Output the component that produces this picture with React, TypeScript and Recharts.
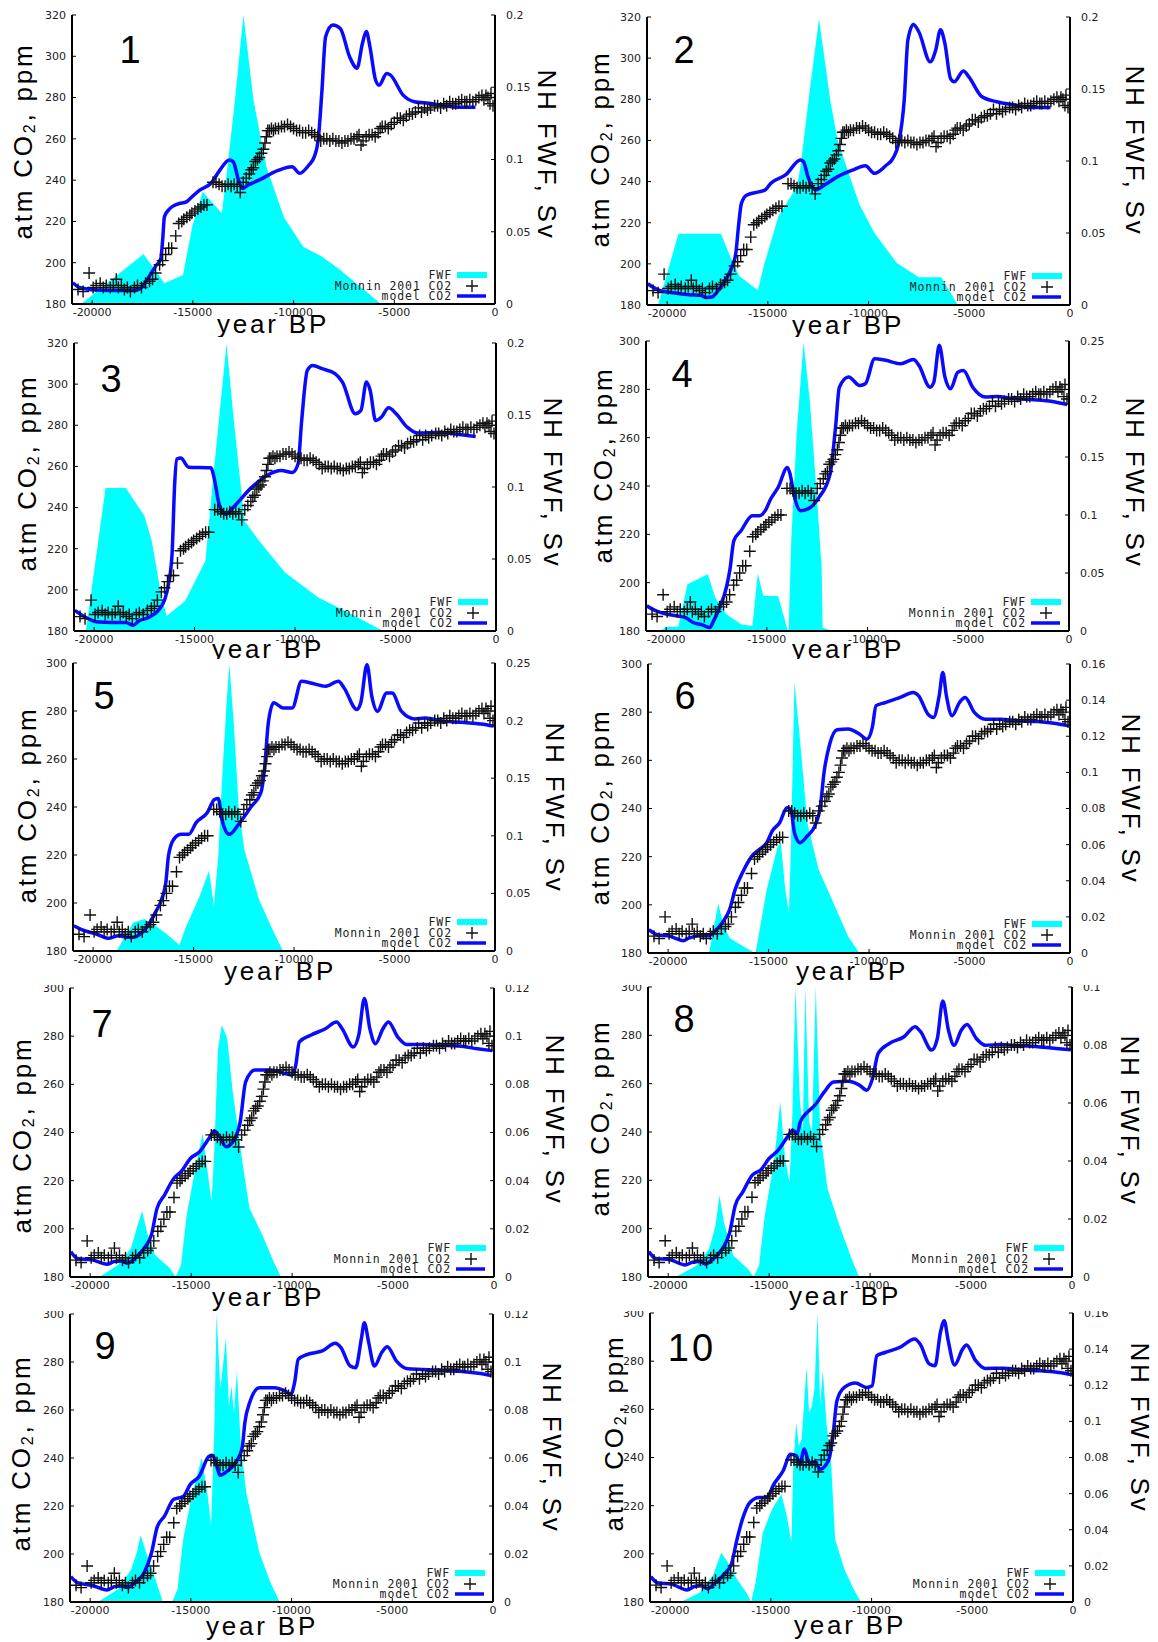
import { Area, ComposedChart, Line, Scatter, XAxis, YAxis } from 'recharts';

type Pair = [number, number];

// axis ticks
const YEAR_TICKS = [-20000, -15000, -10000, -5000, 0];
const CO2_TICKS_320 = [180, 200, 220, 240, 260, 280, 300, 320];
const CO2_TICKS_300 = [180, 200, 220, 240, 260, 280, 300];
const FWF_TICKS_25 = [0, 0.05, 0.1, 0.15, 0.2, 0.25];
const FWF_TICKS_20 = [0, 0.05, 0.1, 0.15, 0.2];
const FWF_TICKS_16 = [0, 0.02, 0.04, 0.06, 0.08, 0.1, 0.12, 0.14, 0.16];
const FWF_TICKS_12 = [0, 0.02, 0.04, 0.06, 0.08, 0.1, 0.12];
const FWF_TICKS_10 = [0, 0.02, 0.04, 0.06, 0.08, 0.1];

// Monnin 2001 Dome C CO2 (year BP, ppm) - same in every panel
const MONNIN: Pair[] = [
  [-20700, 187], [-20450, 186], [-20150, 195], [-19950, 188], [-19800, 189], [-19600, 190],
  [-19450, 188], [-19300, 189], [-19100, 188], [-18950, 189], [-18800, 192], [-18700, 188],
  [-18550, 189], [-18400, 187], [-18250, 188], [-18100, 186], [-17900, 188], [-17750, 189],
  [-17550, 188], [-17350, 190], [-17150, 191], [-17000, 192], [-16850, 195], [-16650, 199],
  [-16500, 201], [-16350, 204], [-16200, 207], [-16050, 207], [-15850, 213], [-15700, 219],
  [-15550, 220], [-15450, 221], [-15300, 222], [-15150, 223], [-15050, 224], [-14900, 225],
  [-14750, 226], [-14600, 227], [-14450, 228], [-14300, 228], [-14000, 239], [-13850, 239],
  [-13700, 238], [-13550, 237], [-13400, 237], [-13250, 238], [-13100, 237], [-12950, 238],
  [-12800, 237], [-12650, 234], [-12500, 239], [-12350, 241], [-12200, 243], [-12100, 245],
  [-12000, 246], [-11900, 249], [-11800, 250], [-11700, 251], [-11600, 253], [-11500, 255],
  [-11420, 258], [-11350, 261], [-11280, 264], [-11200, 264], [-11100, 265], [-11000, 264],
  [-10900, 265], [-10750, 265], [-10600, 266], [-10450, 266], [-10300, 267], [-10150, 266],
  [-10000, 265], [-9850, 264], [-9700, 264], [-9550, 263], [-9400, 263], [-9250, 264],
  [-9100, 263], [-8950, 262], [-8800, 261], [-8650, 259], [-8500, 260], [-8350, 260],
  [-8200, 259], [-8050, 260], [-7900, 259], [-7750, 259], [-7600, 258], [-7450, 259],
  [-7300, 259], [-7150, 260], [-7000, 260], [-6850, 261], [-6750, 262], [-6650, 257],
  [-6550, 259], [-6400, 261], [-6250, 262], [-6100, 262], [-5950, 261], [-5800, 263],
  [-5700, 265], [-5600, 266], [-5450, 266], [-5300, 265], [-5150, 267], [-5000, 268],
  [-4850, 270], [-4700, 270], [-4550, 269], [-4400, 271], [-4250, 272], [-4100, 272],
  [-3950, 273], [-3800, 275], [-3650, 273], [-3500, 275], [-3350, 274], [-3200, 275],
  [-3000, 276], [-2850, 276], [-2700, 275], [-2550, 277], [-2400, 276], [-2250, 278],
  [-2100, 277], [-1950, 277], [-1800, 278], [-1650, 279], [-1500, 278], [-1400, 278],
  [-1250, 279], [-1100, 278], [-950, 279], [-800, 280], [-650, 281], [-550, 279],
  [-450, 281], [-350, 280], [-250, 277], [-200, 282], [-100, 276],
];

// model CO2 (year BP, ppm) and NH freshwater flux (year BP, Sv), one pair of series per run
const MODEL_1: Pair[] = [
  [-20960, 190.3], [-20630, 188], [-19800, 186.8], [-18700, 186.5], [-17800, 186.8], [-17500, 188.4],
  [-17230, 192.4], [-16870, 198], [-16590, 202], [-16500, 211], [-16410, 222.3], [-16130, 226.3],
  [-15760, 228.4], [-15300, 229.6], [-15120, 231.2], [-14660, 235.2], [-14100, 238.5], [-13650, 245],
  [-13190, 249.8], [-13000, 249], [-12730, 240], [-12550, 236], [-12270, 237.6], [-11720, 240],
  [-10800, 244.6], [-10070, 246.5], [-9700, 243.3], [-9240, 247.3], [-8970, 251.4], [-8780, 259.4],
  [-8600, 282], [-8410, 309.5], [-8050, 315.2], [-7680, 313.5], [-7220, 299.8], [-6850, 294.2],
  [-6580, 306.3], [-6390, 312], [-6210, 304.7], [-5930, 288.5], [-5750, 286], [-5380, 291.7],
  [-5200, 291], [-4560, 281.2], [-4000, 278], [-3270, 277.2], [-2540, 276], [-1800, 275.3], [-970, 275.3],
];
const FWF_1: Pair[] = [
  [-20540, 0], [-17450, 0.0346], [-16410, 0.0143], [-15490, 0.02], [-15030, 0.0535], [-14520, 0.0777],
  [-13560, 0.0628], [-13280, 0.095], [-12910, 0.141], [-12490, 0.2], [-11990, 0.141], [-11350, 0.095],
  [-10480, 0.06], [-9520, 0.0397], [-8600, 0.0328], [-7680, 0.0235], [-5660, 0],
];

const MODEL_2: Pair[] = [
  [-20960, 190.3], [-20450, 187.4], [-19620, 185.8], [-18890, 185], [-18340, 184.7], [-18060, 183.7],
  [-17780, 183.9], [-17500, 186.6], [-17050, 193.1], [-16770, 198.8], [-16590, 205.2], [-16460, 218],
  [-16310, 229.5], [-16040, 233.5], [-15400, 235.1], [-15120, 236], [-14850, 239.2], [-14120, 243.2],
  [-13380, 250.5], [-13230, 249.7], [-13010, 242.4], [-12640, 236], [-12180, 238.4], [-11540, 242.4],
  [-10800, 245.6], [-10160, 247.7], [-9700, 244], [-9150, 247.7], [-8790, 251.3], [-8510, 258.6],
  [-8230, 279.6], [-8050, 308.7], [-7770, 316.4], [-7500, 312.7], [-6940, 298.2], [-6670, 303.8],
  [-6430, 313.8], [-6210, 307], [-5930, 290], [-5750, 288.5], [-5290, 293.8], [-5020, 290.9],
  [-4370, 281.2], [-3640, 278.8], [-2720, 277.2], [-1980, 276], [-970, 276],
];
const FWF_2: Pair[] = [
  [-20450, 0], [-19440, 0.0494], [-17330, 0.0494], [-16870, 0.0337], [-16410, 0.0199], [-15490, 0.0102],
  [-15210, 0.0268], [-14480, 0.0614], [-13560, 0.0822], [-13380, 0.096], [-12920, 0.149], [-12460, 0.1988],
  [-11900, 0.142], [-11540, 0.1146], [-10990, 0.0915], [-10440, 0.0695], [-9700, 0.0499], [-8600, 0.0291],
  [-7500, 0.0192], [-6390, 0.0192], [-5570, 0],
];

const MODEL_3: Pair[] = [
  [-20960, 190], [-20540, 187.3], [-19890, 184.5], [-19150, 184.1], [-18420, 184.1], [-18050, 182.8],
  [-17770, 184.9], [-17310, 186.5], [-16760, 190.6], [-16480, 195.4], [-16300, 202.7], [-16120, 217.4],
  [-15990, 251.5], [-15880, 263.6], [-15690, 264.1], [-15290, 259.6], [-14180, 259.3], [-14000, 253.1],
  [-13780, 241.7], [-13450, 236.8], [-13080, 240.1], [-12160, 249.8], [-11420, 255.5], [-10680, 258],
  [-10130, 257.1], [-9850, 261.2], [-9670, 282.3], [-9390, 306.7], [-9120, 309.1], [-8660, 307.5],
  [-8010, 305.1], [-7640, 301], [-7000, 285.6], [-6720, 287.2], [-6450, 301], [-6260, 296.9],
  [-5990, 282.3], [-5710, 283.9], [-5340, 288.5], [-4970, 285.6], [-4420, 279.1], [-3870, 276.2],
  [-2950, 276.5], [-2030, 275.8], [-1010, 274.5],
];
const FWF_3: Pair[] = [
  [-20410, 0], [-19430, 0.0993], [-18420, 0.0993], [-17500, 0.08], [-17130, 0.0626], [-16670, 0.0255],
  [-16390, 0.0104], [-15470, 0.0209], [-14460, 0.0487], [-14090, 0.1044], [-13410, 0.1995], [-13080, 0.1508],
  [-12520, 0.0766], [-11790, 0.0626], [-10500, 0.0406], [-8840, 0.0232], [-7180, 0.0116], [-5620, 0],
];

const MODEL_4: Pair[] = [
  [-20960, 190.4], [-20500, 188.3], [-19950, 186.9], [-19400, 186.2], [-19030, 185.5], [-18660, 183.5],
  [-18200, 182.5], [-17840, 181.4], [-17650, 184.1], [-17380, 189], [-17010, 198], [-16830, 205.6],
  [-16640, 217.3], [-16280, 221.5], [-15720, 227.7], [-15360, 227.7], [-15080, 229.8], [-14810, 234.6],
  [-14440, 239.4], [-13980, 247.7], [-13850, 245], [-13660, 236.7], [-13330, 229.8], [-12970, 230.5],
  [-12410, 235.3], [-11860, 245], [-11590, 264.3], [-11400, 280.9], [-10940, 285.1], [-10390, 281.6],
  [-10110, 282.3], [-9650, 292.7], [-9100, 292], [-8370, 290.6], [-7720, 292.3], [-7450, 289.9],
  [-6900, 280.9], [-6710, 283], [-6440, 298.2], [-6160, 285.1], [-5880, 280.2], [-5520, 287.1],
  [-5240, 287.8], [-4780, 280.9], [-4140, 276.8], [-3590, 277], [-2670, 276.1], [-1750, 275.7],
  [-830, 275], [-90, 273.7],
];
const FWF_4: Pair[] = [
  [-20300, 0], [-19950, 0.0037], [-19400, 0.0037], [-18940, 0.0403], [-17930, 0.049], [-17560, 0.0288],
  [-17010, 0.0144], [-16280, 0.0058], [-15720, 0.0043], [-15450, 0.0495], [-15170, 0.0302], [-14440, 0.0302],
  [-13980, 0.0014], [-13920, 0], [-13790, 0.0778], [-13520, 0.17], [-13180, 0.249], [-12870, 0.199],
  [-12500, 0.112], [-12280, 0.0547], [-12230, 0.003], [-11770, 0],
];

const MODEL_5: Pair[] = [
  [-20960, 190.5], [-20570, 188.9], [-19840, 187.1], [-19200, 185.3], [-18740, 186.4], [-18280, 185.7],
  [-18000, 185.7], [-17640, 187.1], [-17270, 190.5], [-16900, 196.1], [-16530, 203], [-16380, 208.5],
  [-16250, 219.6], [-15980, 226.6], [-15610, 228.6], [-15240, 228.6], [-14870, 233.5], [-14320, 237.6],
  [-13950, 243.2], [-13770, 243.5], [-13590, 234.9], [-13220, 228.6], [-12760, 232.8], [-12110, 240.4],
  [-11650, 246], [-11470, 255.7], [-11280, 275.1], [-11010, 283.4], [-10550, 281.3], [-10090, 281.3],
  [-9630, 292.4], [-9170, 291.7], [-8430, 290.3], [-7790, 292.4], [-7510, 289.6], [-6870, 280.6],
  [-6680, 283.4], [-6370, 299.3], [-6130, 286.1], [-5850, 279.9], [-5390, 287.5], [-5120, 287.5],
  [-4660, 279.9], [-4010, 276.7], [-3460, 277.1], [-2540, 275.7], [-1620, 275.3], [-700, 274.6], [-60, 273.7],
];
const FWF_5: Pair[] = [
  [-18830, 0], [-18000, 0.0248], [-17450, 0.0277], [-16900, 0.0219], [-16340, 0.0147], [-15700, 0.0052],
  [-15420, 0.019], [-14690, 0.0479], [-14230, 0.0696], [-13990, 0.0393], [-13770, 0.0826], [-13590, 0.146],
  [-13370, 0.2125], [-13220, 0.2494], [-13000, 0.198], [-12760, 0.126], [-12480, 0.0883], [-11750, 0.045],
  [-11010, 0.0162], [-10550, 0],
];

const MODEL_6: Pair[] = [
  [-20960, 189.7], [-20540, 187.6], [-19890, 186.9], [-19250, 185.1], [-18970, 186.2], [-18420, 187.2],
  [-17960, 187.2], [-17680, 189], [-17310, 192.5], [-16940, 198], [-16660, 206.4], [-16300, 213.3],
  [-15830, 220.2], [-15460, 223], [-15090, 225.8], [-14820, 230.6], [-14450, 234.1], [-14080, 240.3],
  [-13900, 239.7], [-13710, 229.9], [-13440, 225.8], [-13070, 228.6], [-12700, 232.7], [-12420, 241],
  [-12240, 254.9], [-11960, 266.7], [-11590, 272.7], [-11040, 273], [-10480, 270.9], [-10110, 268.8],
  [-9840, 273.6], [-9650, 282.7], [-9190, 284], [-8450, 286.1], [-7800, 288.2], [-7530, 286.8],
  [-7070, 279.2], [-6790, 277.8], [-6510, 286.8], [-6330, 296.5], [-6150, 286.8], [-5870, 278.5],
  [-5500, 284], [-5220, 286.1], [-4760, 279.9], [-4210, 277.1], [-3470, 277.1], [-2550, 276.4],
  [-1630, 276.1], [-700, 275.3], [-60, 274.3],
];
const FWF_6: Pair[] = [
  [-17960, 0], [-17680, 0.0166], [-17500, 0.0274], [-17280, 0.0166], [-16940, 0.0083], [-16390, 0.0046],
  [-15830, 0.0009], [-15650, 0], [-15560, 0.0055], [-15090, 0.0351], [-14540, 0.0592], [-14390, 0.061],
  [-14170, 0.0351], [-13990, 0.0222], [-13900, 0.0536], [-13710, 0.1498], [-13440, 0.1184], [-13070, 0.0721],
  [-12510, 0.0462], [-11770, 0.0277], [-11040, 0.0092], [-10480, 0],
];

const MODEL_7: Pair[] = [
  [-20960, 190.5], [-20630, 187.7], [-19900, 187.1], [-19160, 185.3], [-18800, 186.4], [-18430, 186.6],
  [-18160, 185.7], [-17790, 187.7], [-17330, 191.9], [-16970, 197.4], [-16690, 208.5], [-16320, 214],
  [-15860, 220.9], [-15500, 223.7], [-15040, 229.2], [-14580, 232], [-14120, 237.5], [-13850, 240.6],
  [-13580, 238.2], [-13270, 234.1], [-12940, 236.1], [-12570, 244.4], [-12300, 261], [-11840, 265.9],
  [-11100, 265.9], [-10370, 264.5], [-10000, 263.8], [-9820, 267.9], [-9640, 277.6], [-9080, 280.4],
  [-8350, 283.1], [-7800, 285.9], [-7520, 283.1], [-6970, 275.5], [-6700, 280.4], [-6420, 295.6],
  [-6150, 283.1], [-5870, 276.9], [-5500, 283.1], [-5230, 285.9], [-4770, 279.7], [-4310, 276.5],
  [-3580, 276.5], [-2660, 276.2], [-1750, 275.9], [-830, 274.8], [-90, 274],
];
const FWF_7: Pair[] = [
  [-19540, 0], [-18620, 0.005], [-17980, 0.0119], [-17670, 0.0209], [-17430, 0.0274], [-17150, 0.0174],
  [-16790, 0.0091], [-16050, 0.0036], [-15770, 0], [-15500, 0.005], [-15220, 0.0257], [-14760, 0.0465],
  [-14430, 0.0596], [-14210, 0.0451], [-13990, 0.0312], [-13850, 0.0534], [-13670, 0.0948], [-13480, 0.1045],
  [-13210, 0.099], [-12940, 0.0769], [-12390, 0.0437], [-12110, 0.0285], [-11470, 0.0174], [-10920, 0.0064],
  [-10550, 0],
];

const MODEL_8: Pair[] = [
  [-20960, 190.5], [-20630, 187.7], [-19900, 187.1], [-19160, 185], [-18790, 186.1], [-18420, 186.4],
  [-18150, 185.4], [-17780, 187.5], [-17320, 191.6], [-16950, 198.5], [-16680, 209.6], [-16310, 215.1],
  [-15850, 222], [-15390, 224.5], [-15020, 228.9], [-14560, 232.4], [-14100, 237.9], [-13830, 240.7],
  [-13610, 239.3], [-13460, 244.1], [-13090, 248.3], [-12730, 251.1], [-12270, 256.6], [-11810, 260.7],
  [-11080, 261], [-10530, 259.4], [-10160, 257.3], [-9880, 262.1], [-9600, 272.5], [-9050, 276.6],
  [-8320, 279.4], [-7770, 283.6], [-7500, 281.5], [-6950, 273.9], [-6670, 278.7], [-6400, 294.2],
  [-6120, 282.2], [-5840, 275.9], [-5480, 282.2], [-5200, 284.5], [-4740, 278.7], [-4280, 275.9],
  [-3550, 276.2], [-2630, 275.7], [-1710, 275.3], [-790, 274.6], [-60, 274],
];
const FWF_8: Pair[] = [
  [-19620, 0], [-18610, 0.0039], [-17970, 0.0097], [-17660, 0.0177], [-17460, 0.0281], [-17240, 0.0189],
  [-16780, 0.0074], [-16050, 0.0028], [-15770, 0], [-15500, 0.0039], [-15220, 0.0212], [-14760, 0.0396],
  [-14450, 0.0604], [-14210, 0.0408], [-13990, 0.0327], [-13850, 0.0558], [-13700, 0.1], [-13480, 0.0615],
  [-13330, 0.05], [-13210, 0.1], [-13020, 0.0535], [-12880, 0.05], [-12690, 0.1], [-12470, 0.05],
  [-12110, 0.0304], [-11460, 0.0166], [-10910, 0.0062], [-10540, 0],
];

const MODEL_9: Pair[] = [
  [-20960, 190.6], [-20630, 188.1], [-19900, 186.9], [-19160, 185], [-18790, 186.4], [-18420, 186.7],
  [-18150, 186], [-17780, 188.1], [-17320, 192.2], [-16950, 200.6], [-16680, 211], [-16310, 215.8],
  [-15850, 222.8], [-15390, 223.9], [-15030, 229], [-14570, 232.5], [-14110, 240.6], [-13920, 241.1],
  [-13740, 237.4], [-13550, 232.8], [-13180, 234.6], [-12720, 238.8], [-12450, 244.3], [-12320, 254.7],
  [-12080, 263.1], [-11600, 269.3], [-10870, 269.3], [-10310, 267.9], [-10040, 266.5], [-9850, 271.4],
  [-9670, 281.1], [-9210, 283.2], [-8470, 284.6], [-7830, 287.8], [-7550, 286], [-7090, 278.3],
  [-6820, 277.6], [-6540, 289.4], [-6390, 296.4], [-6170, 288.1], [-5890, 278.3], [-5530, 283.9],
  [-5250, 286.4], [-4790, 280.4], [-4240, 277.2], [-3500, 276.9], [-2580, 276.5], [-1660, 276.1],
  [-740, 275.3], [-90, 274.4],
];
const FWF_9: Pair[] = [
  [-19620, 0], [-18610, 0.0053], [-17960, 0.0136], [-17680, 0.0206], [-17500, 0.0278], [-17220, 0.0206],
  [-16760, 0.0094], [-16390, 0], [-15930, 0], [-15660, 0.0053], [-15380, 0.0261], [-14920, 0.0456],
  [-14460, 0.0601], [-14180, 0.0456], [-14000, 0.0317], [-13850, 0.0678], [-13720, 0.12], [-13540, 0.0886],
  [-13440, 0.0956], [-13260, 0.1101], [-13110, 0.0817], [-12990, 0.09], [-12860, 0.0789], [-12710, 0.0963],
  [-12520, 0.065], [-12250, 0.0456], [-11600, 0.0206], [-11050, 0.0081], [-10590, 0],
];

const MODEL_10: Pair[] = [
  [-20960, 190.5], [-20630, 188], [-19900, 187.3], [-19160, 185], [-18800, 186.4], [-18430, 186.7],
  [-18150, 185.5], [-17790, 187.8], [-17330, 191.5], [-16960, 195.7], [-16680, 206], [-16410, 214.4],
  [-16040, 221.3], [-15580, 223.4], [-15210, 223.4], [-14850, 228.9], [-14390, 234.5], [-14020, 241.4],
  [-13740, 240.7], [-13560, 237.2], [-13340, 243.5], [-13100, 237.9], [-12820, 238.2], [-12550, 235.1],
  [-12310, 236.5], [-12090, 240], [-11900, 250.4], [-11720, 263.6], [-11350, 269.1], [-10800, 270.9],
  [-10250, 269.1], [-9970, 269.8], [-9740, 282.3], [-9330, 283.6], [-8600, 285.7], [-7860, 289.2],
  [-7590, 287.1], [-7130, 278.8], [-6850, 278.1], [-6580, 292], [-6390, 296.8], [-6210, 289.2],
  [-5880, 278.4], [-5480, 285], [-5290, 286.7], [-4830, 280.2], [-4370, 277], [-3450, 277.1],
  [-2540, 276.3], [-1620, 276], [-700, 275.3], [-60, 274.4],
];
const FWF_10: Pair[] = [
  [-19470, 0], [-18520, 0.0052], [-17880, 0.0144], [-17460, 0.0273], [-17140, 0.0218], [-16680, 0.0126],
  [-16220, 0.0052], [-15980, 0], [-15760, 0.0107], [-15400, 0.0384], [-14940, 0.0514], [-14480, 0.0597],
  [-14210, 0.0477], [-13980, 0.0329], [-13890, 0.0754], [-13740, 0.0994], [-13610, 0.0865], [-13470, 0.0902],
  [-13230, 0.1299], [-13100, 0.1049], [-12960, 0.1086], [-12830, 0.1188], [-12680, 0.16], [-12550, 0.1086],
  [-12420, 0.128], [-12240, 0.0994], [-12000, 0.0754], [-11810, 0.0347], [-11350, 0.0181], [-10890, 0.007],
  [-10530, 0],
];

// layout (page pixels)
const LW = 60;
const RW = 60;
const MT = 10;
const XH = 30;
const COL_X = [0, 579, 1158];
const ROW_Y = [0, 337, 659, 985, 1311, 1642];
const TICK_FONT = { fontSize: 11, fontFamily: 'DejaVu Sans', fill: '#222' };
const TITLE_FONT = 'Liberation Sans, Arial, sans-serif';
const TITLE_SIZE = 26;
const TITLE_SPACING = 2.8;

interface PanelSpec {
  label: string;
  col: number;
  row: number;
  plot: [number, number, number, number];
  co2Ticks: number[];
  fwfTicks: number[];
  model: Pair[];
  fwf: Pair[];
  num: [number, number];
  atm: [number, number];
  nh: [number, number];
  yr: [number, number];
}

const PANELS: PanelSpec[] = [
  { label: '1', col: 0, row: 0, plot: [72, 15, 495, 304], co2Ticks: CO2_TICKS_320, fwfTicks: FWF_TICKS_20, model: MODEL_1, fwf: FWF_1, num: [130, 63], atm: [23, 141], nh: [547, 155], yr: [273, 333] },
  { label: '2', col: 1, row: 0, plot: [647, 17, 1070, 305], co2Ticks: CO2_TICKS_320, fwfTicks: FWF_TICKS_20, model: MODEL_2, fwf: FWF_2, num: [684, 63], atm: [600, 149], nh: [1135, 151], yr: [848, 334] },
  { label: '3', col: 0, row: 1, plot: [74, 343, 496, 631], co2Ticks: CO2_TICKS_320, fwfTicks: FWF_TICKS_20, model: MODEL_3, fwf: FWF_3, num: [111, 392], atm: [27, 473], nh: [553, 483], yr: [268, 658] },
  { label: '4', col: 1, row: 1, plot: [646, 341, 1069, 631], co2Ticks: CO2_TICKS_300, fwfTicks: FWF_TICKS_25, model: MODEL_4, fwf: FWF_4, num: [682, 387], atm: [603, 465], nh: [1135, 483], yr: [848, 658] },
  { label: '5', col: 0, row: 2, plot: [73, 663, 495, 951], co2Ticks: CO2_TICKS_300, fwfTicks: FWF_TICKS_25, model: MODEL_5, fwf: FWF_5, num: [104, 709], atm: [27, 805], nh: [555, 808], yr: [280, 980] },
  { label: '6', col: 1, row: 2, plot: [648, 664, 1070, 953], co2Ticks: CO2_TICKS_300, fwfTicks: FWF_TICKS_16, model: MODEL_6, fwf: FWF_6, num: [685, 709], atm: [600, 807], nh: [1131, 799], yr: [852, 980] },
  { label: '7', col: 0, row: 3, plot: [70, 988, 494, 1277], co2Ticks: CO2_TICKS_300, fwfTicks: FWF_TICKS_12, model: MODEL_7, fwf: FWF_7, num: [102, 1037], atm: [22, 1135], nh: [555, 1120], yr: [268, 1306] },
  { label: '8', col: 1, row: 3, plot: [648, 987, 1072, 1277], co2Ticks: CO2_TICKS_300, fwfTicks: FWF_TICKS_10, model: MODEL_8, fwf: FWF_8, num: [684, 1032], atm: [600, 1118], nh: [1130, 1121], yr: [845, 1305] },
  { label: '9', col: 0, row: 4, plot: [70, 1314, 493, 1602], co2Ticks: CO2_TICKS_300, fwfTicks: FWF_TICKS_12, model: MODEL_9, fwf: FWF_9, num: [105, 1359], atm: [21, 1453], nh: [552, 1448], yr: [262, 1635] },
  { label: '10', col: 1, row: 4, plot: [650, 1313, 1073, 1602], co2Ticks: CO2_TICKS_300, fwfTicks: FWF_TICKS_16, model: MODEL_10, fwf: FWF_10, num: [692, 1361], atm: [614, 1433], nh: [1140, 1428], yr: [850, 1634] },
];

const toRows = (pairs: Pair[]) => pairs.map(([x, y]) => ({ x, y }));
const MONNIN_ROWS = toRows(MONNIN);

const fmtFwf = (v: number) => String(Number(v.toFixed(3)));
const noLabel = () => '';

const PlusShape = (props: { cx?: number; cy?: number }) => {
  const { cx, cy } = props;
  if (cx == null || cy == null) return null;
  return (
    <path
      d={`M${cx - 6},${cy}H${cx + 6}M${cx},${cy - 6}V${cy + 6}`}
      stroke="#111"
      strokeWidth={1.4}
      fill="none"
    />
  );
};

const axisLine = { stroke: '#000', strokeWidth: 2 };
const tickLine = { stroke: '#000', strokeWidth: 1 };

const Panel = ({ p }: { p: PanelSpec }) => {
  const rx = COL_X[p.col];
  const ry = ROW_Y[p.row];
  const rw = COL_X[p.col + 1] - rx;
  const rh = ROW_Y[p.row + 1] - ry;
  const [pl, pt, pr, pb] = p.plot;
  const plotW = pr - pl;
  const plotH = pb - pt;
  const co2Max = p.co2Ticks[p.co2Ticks.length - 1];
  const fwfMax = p.fwfTicks[p.fwfTicks.length - 1];
  const [ax, ay] = [p.atm[0] - rx, p.atm[1] - ry];
  const [nx, ny] = [p.nh[0] - rx, p.nh[1] - ry];
  const lx = pr - rx;
  const lb = pb - ry;

  return (
    <div style={{ position: 'absolute', left: rx, top: ry, width: rw, height: rh, overflow: 'hidden', background: '#fff' }}>
      <div style={{ position: 'absolute', left: pl - LW - rx, top: pt - MT - ry }}>
        <ComposedChart
          width={LW + plotW + RW}
          height={MT + plotH + XH}
          margin={{ top: MT, right: 0, bottom: 0, left: 0 }}
        >
          <XAxis
            xAxisId="b"
            type="number"
            dataKey="x"
            domain={[-21000, 0]}
            allowDataOverflow
            ticks={YEAR_TICKS}
            interval={0}
            height={XH}
            axisLine={axisLine}
            tickLine={tickLine}
            tickSize={-4}
            tickMargin={8}
            tick={TICK_FONT}
          />
          <XAxis
            xAxisId="t"
            type="number"
            orientation="top"
            domain={[-21000, 0]}
            allowDataOverflow
            ticks={YEAR_TICKS}
            interval={0}
            height={0}
            axisLine={axisLine}
            tickLine={tickLine}
            tickSize={-4}
            tickFormatter={noLabel}
          />
          <YAxis
            yAxisId="l"
            type="number"
            domain={[180, co2Max]}
            allowDataOverflow
            ticks={p.co2Ticks}
            interval={0}
            width={LW}
            axisLine={axisLine}
            tickLine={tickLine}
            tickSize={-4}
            tickMargin={10}
            tick={TICK_FONT}
          />
          <YAxis
            yAxisId="m"
            type="number"
            orientation="right"
            domain={[180, co2Max]}
            allowDataOverflow
            ticks={p.co2Ticks}
            interval={0}
            width={0}
            axisLine={axisLine}
            tickLine={tickLine}
            tickSize={-4}
            tickFormatter={noLabel}
          />
          <YAxis
            yAxisId="r"
            type="number"
            orientation="right"
            domain={[0, fwfMax]}
            allowDataOverflow
            ticks={p.fwfTicks}
            interval={0}
            width={RW}
            axisLine={axisLine}
            tickLine={tickLine}
            tickSize={-4}
            tickMargin={15}
            tickFormatter={fmtFwf}
            tick={TICK_FONT}
          />
          <Area
            xAxisId="b"
            yAxisId="r"
            data={toRows(p.fwf)}
            dataKey="y"
            type="linear"
            stroke="none"
            fill="#00ffff"
            fillOpacity={1}
            isAnimationActive={false}
          />
          <Scatter
            xAxisId="b"
            yAxisId="l"
            data={MONNIN_ROWS}
            dataKey="y"
            shape={(props: any) => <PlusShape {...props} />}
            isAnimationActive={false}
          />
          <Line
            xAxisId="b"
            yAxisId="l"
            data={toRows(p.model)}
            dataKey="y"
            type="monotone"
            stroke="#0a0aff"
            strokeWidth={3.5}
            dot={false}
            activeDot={false}
            isAnimationActive={false}
          />
        </ComposedChart>
      </div>
      <svg
        width={rw}
        height={rh}
        style={{ position: 'absolute', left: 0, top: 0, pointerEvents: 'none' }}
      >
        <text x={p.num[0] - rx} y={p.num[1] - ry} textAnchor="middle" fontFamily={TITLE_FONT} fontSize={38} letterSpacing={p.label.length > 1 ? 3 : 0}>
          {p.label}
        </text>
        <text
          x={ax}
          y={ay}
          transform={`rotate(-90 ${ax} ${ay})`}
          textAnchor="middle"
          dominantBaseline="central"
          fontFamily={TITLE_FONT}
          fontSize={TITLE_SIZE}
          letterSpacing={TITLE_SPACING}
        >
          atm CO<tspan fontSize={16} dy={6}>2</tspan>
          <tspan dy={-6}>, ppm</tspan>
        </text>
        <text
          x={nx}
          y={ny}
          transform={`rotate(90 ${nx} ${ny})`}
          textAnchor="middle"
          dominantBaseline="central"
          fontFamily={TITLE_FONT}
          fontSize={TITLE_SIZE}
          letterSpacing={TITLE_SPACING}
        >
          NH FWF, Sv
        </text>
        <text x={p.yr[0] - rx} y={p.yr[1] - ry} textAnchor="middle" fontFamily={TITLE_FONT} fontSize={TITLE_SIZE} letterSpacing={TITLE_SPACING}>
          year BP
        </text>
        {/* legend */}
        <g fontFamily="DejaVu Sans Mono, monospace" fontSize={11.5} letterSpacing={0.9} fill="#222">
          <text x={lx - 43} y={lb - 29} textAnchor="end" dominantBaseline="central">FWF</text>
          <rect x={lx - 38} y={lb - 32} width={30} height={6} fill="#00ffff" />
          <text x={lx - 43} y={lb - 18} textAnchor="end" dominantBaseline="central">Monnin 2001 CO2</text>
          <PlusShape cx={lx - 23} cy={lb - 18} />
          <text x={lx - 43} y={lb - 8} textAnchor="end" dominantBaseline="central">model CO2</text>
          <line x1={lx - 38} x2={lx - 9} y1={lb - 8} y2={lb - 8} stroke="#0a0aff" strokeWidth={3.5} />
        </g>
      </svg>
    </div>
  );
}

export default function App() {
  return (
    <div style={{ position: 'absolute', left: 0, top: 0, width: 1158, height: 1642, background: '#fff', overflow: 'hidden' }}>
      {PANELS.map((p) => (
        <Panel key={p.label} p={p} />
      ))}
    </div>
  );
}
